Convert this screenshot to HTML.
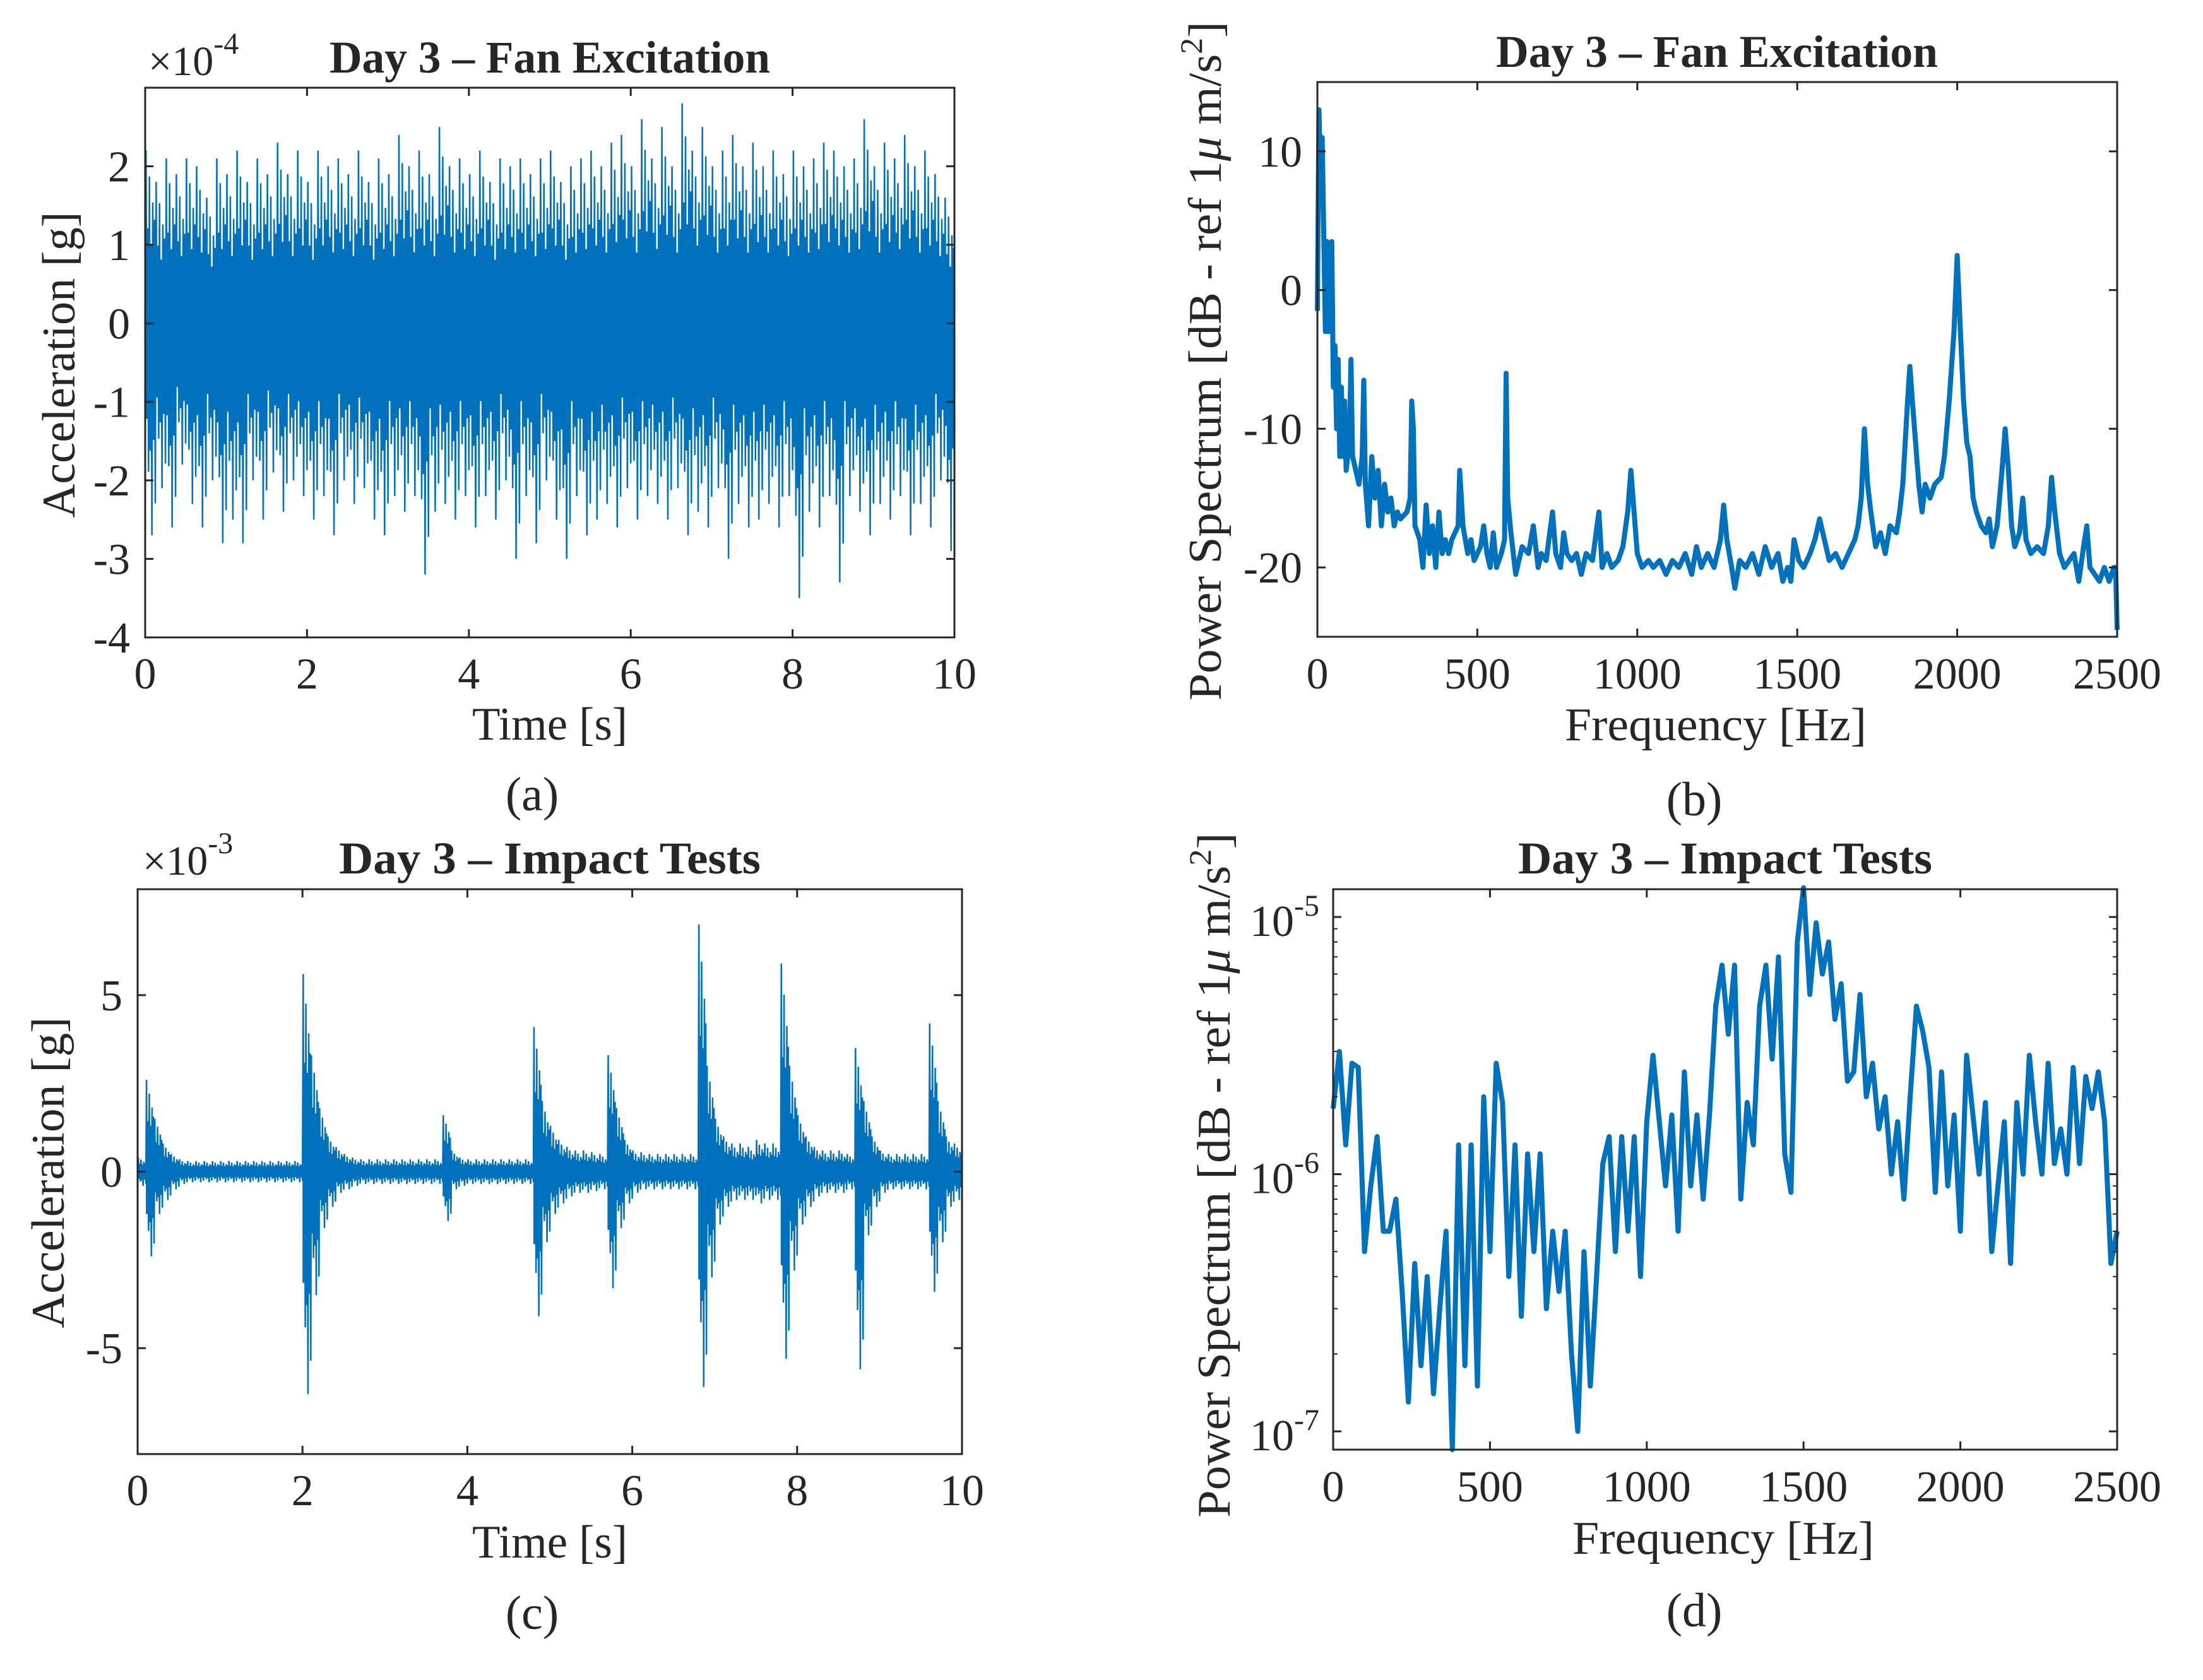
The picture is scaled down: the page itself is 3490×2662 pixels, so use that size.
<!DOCTYPE html>
<html><head><meta charset="utf-8"><style>
html,body{margin:0;padding:0;background:#fff}
svg{display:block}
text{font-family:"Liberation Serif",serif;fill:#262626}
</style></head><body>
<svg id="fig" xmlns="http://www.w3.org/2000/svg" width="3490" height="2662" viewBox="0 0 3490 2662">
<rect width="3490" height="2662" fill="#fff"/>
<g id="pa"></g>
<g id="pb"></g>
<g id="pc"></g>
<g id="pd"></g>
</svg>
<script>
// ---- Panel (a) data: per-bin extremes (x1e-4 g), 80 bins over 0-10 s
const aMax=[2.2,1.8,2.1,1.9,2.1,2.0,1.6,2.1,1.9,2.2,1.8,2.1,1.9,2.3,1.9,2.2,1.8,2.2,2.0,2.1,1.9,2.2,1.8,2.1,1.9,2.4,2.0,2.2,1.9,2.5,2.0,2.1,1.9,2.2,1.8,2.1,2.0,2.1,1.9,2.1,2.2,1.8,2.0,2.1,2.2,2.0,2.3,2.4,2.0,2.6,2.1,2.5,2.0,2.8,2.2,2.5,2.0,2.2,2.4,2.0,2.3,2.0,2.2,1.9,2.2,2.0,2.1,2.3,2.2,2.0,2.1,2.6,2.0,2.3,2.1,2.4,2.0,2.2,1.9,1.6];
const aMin=[-2.7,-2.1,-2.6,-1.8,-2.3,-2.6,-2.0,-2.8,-2.5,-2.8,-2.0,-2.5,-1.9,-2.4,-2.0,-2.2,-2.5,-2.2,-2.7,-2.0,-2.3,-2.1,-2.5,-2.7,-2.2,-2.4,-2.2,-3.2,-2.4,-2.3,-2.5,-2.2,-2.6,-2.2,-2.5,-2.0,-3.0,-2.2,-2.8,-2.0,-2.5,-3.0,-2.2,-2.7,-2.5,-2.3,-2.6,-2.1,-2.5,-2.2,-2.3,-2.5,-2.1,-2.7,-2.4,-2.6,-2.1,-3.0,-2.3,-2.6,-2.5,-2.3,-2.6,-2.2,-3.5,-2.4,-2.6,-2.2,-3.3,-2.2,-2.4,-2.7,-2.3,-2.5,-2.2,-2.7,-2.3,-2.6,-2.0,-2.9];
const aXTicks=[0,2,4,6,8,10];
const aYTicks=[-4,-3,-2,-1,0,1,2];
// ---- Panel (b) data
const bFreq=[0,5,10,15,20,25,30,35,40,45,50,55,60,65,70,75,80,85,90,95,100,105,110,120,130,140,145,150,160,170,180,190,200,210,220,230,240,250,260,280,290,295,300,305,320,330,340,350,360,370,380,390,400,410,420,440,445,455,470,480,490,500,510,520,530,540,550,560,575,585,590,595,605,620,640,660,675,690,700,715,735,745,760,770,780,795,810,825,840,860,880,890,905,920,940,955,970,980,990,1000,1015,1035,1050,1070,1090,1110,1130,1150,1170,1185,1200,1220,1240,1260,1270,1280,1295,1305,1320,1340,1360,1380,1400,1420,1440,1455,1470,1480,1490,1505,1520,1540,1555,1570,1580,1600,1620,1640,1660,1680,1690,1700,1710,1720,1730,1745,1760,1775,1790,1810,1820,1830,1845,1852,1860,1870,1880,1890,1900,1915,1930,1950,1960,1975,1990,2000,2010,2020,2030,2040,2050,2060,2075,2090,2100,2110,2125,2140,2150,2160,2170,2180,2195,2205,2215,2230,2250,2270,2285,2295,2305,2320,2335,2350,2365,2380,2395,2405,2415,2430,2445,2460,2475,2490,2495,2500];
const bDb=[-1.5,13,8,11,4,-3,3.5,-3,-2,3.5,-7,-4,-10,-5,-12,-7,-12,-8,-13,-12,-11,-5,-12,-13,-14,-12,-6.5,-14,-17,-12,-15,-13,-17,-14,-16,-15,-17,-16,-16.5,-16,-15,-8,-10,-17,-18,-20,-15.5,-19,-17,-20,-16,-19,-18,-19,-18,-17,-13,-17,-19,-18,-19.5,-19,-18.5,-17,-19,-20,-17.5,-20,-19,-18,-6,-15,-17.5,-20.5,-18.5,-19,-17,-20,-19,-19.5,-16,-19,-20,-17.5,-19,-19.5,-19,-20.5,-19,-19.5,-16,-20,-19,-20,-19.5,-18.5,-16,-13,-16,-19,-20,-19.5,-20,-19.5,-20.5,-19.5,-20,-19,-20.5,-18.5,-20,-19,-20,-18,-15.5,-18,-20,-21.5,-19.5,-20,-19,-20.5,-18.5,-20,-19,-21,-20,-21,-18,-19.5,-20,-19,-18,-16.5,-17.5,-19.5,-19,-20,-19,-18,-17,-15,-10,-14,-16,-18.5,-17.5,-19,-17,-17.5,-16,-14,-8,-5.5,-8,-11,-14,-16,-14,-15,-14,-13.5,-12,-8,-3,2.5,-3,-8,-11,-12,-15,-16,-17,-17.5,-16.5,-18.5,-17,-13,-10,-13,-17,-18.5,-17.5,-15,-18,-19,-18.5,-19,-17,-13.5,-16,-19,-20,-19.5,-19,-21,-18.5,-17,-20,-20.5,-21,-20,-21,-20,-20,-24.5];
const bXTicks=[0,500,1000,1500,2000,2500];
const bYTicks=[-20,-10,0,10];
// ---- Panel (c) data: per-bin envelope (x1e-3 g), 100 bins of 0.1 s
const cMax=[0.4,2.6,1.5,0.8,0.5,0.35,0.3,0.3,0.3,0.3,0.3,0.3,0.3,0.3,0.3,0.3,0.3,0.3,0.3,0.3,5.6,3.3,1.8,1.0,0.7,0.5,0.4,0.35,0.35,0.35,0.35,0.35,0.35,0.35,0.35,0.35,0.35,1.6,0.6,0.4,0.35,0.35,0.35,0.35,0.35,0.35,0.35,0.35,4.1,2.0,1.3,0.9,0.7,0.6,0.6,0.55,0.5,3.3,1.8,0.9,0.6,0.55,0.5,0.5,0.5,0.5,0.5,0.5,7.0,3.0,1.5,1.0,0.8,0.8,0.7,0.9,0.8,0.8,5.9,3.0,1.6,1.0,0.7,0.6,0.6,0.6,0.5,3.5,2.0,1.0,0.6,0.5,0.5,0.5,0.5,0.5,4.2,2.0,1.0,0.8];
const cMin=[-0.4,-2.4,-1.2,-0.8,-0.5,-0.35,-0.3,-0.3,-0.3,-0.3,-0.3,-0.3,-0.3,-0.3,-0.3,-0.3,-0.3,-0.3,-0.3,-0.3,-6.3,-3.5,-1.6,-1.0,-0.6,-0.5,-0.4,-0.35,-0.35,-0.35,-0.35,-0.35,-0.35,-0.35,-0.35,-0.35,-0.35,-1.4,-0.5,-0.4,-0.35,-0.35,-0.35,-0.35,-0.35,-0.35,-0.35,-0.35,-4.1,-2.0,-1.2,-0.9,-0.7,-0.6,-0.6,-0.55,-0.5,-3.3,-1.6,-0.9,-0.6,-0.5,-0.5,-0.5,-0.5,-0.5,-0.5,-0.5,-6.1,-3.0,-1.5,-1.0,-0.8,-0.8,-0.8,-0.9,-0.8,-0.8,-5.3,-2.8,-1.5,-1.0,-0.7,-0.6,-0.6,-0.6,-0.5,-5.6,-1.8,-1.0,-0.6,-0.5,-0.5,-0.5,-0.5,-0.5,-3.4,-2.0,-1.0,-0.8];
const cXTicks=[0,2,4,6,8,10];
const cYTicks=[-5,0,5];
// ---- Panel (d) data: 20 Hz steps, values x1e-6
const dStep=20;
const dVal=[1.8,3.0,1.3,2.7,2.6,0.5,0.9,1.4,0.6,0.6,0.8,0.35,0.13,0.45,0.18,0.4,0.14,0.3,0.6,0.08,1.3,0.18,1.3,0.15,2.0,0.5,2.7,1.9,0.4,1.3,0.28,1.2,0.5,1.2,0.3,0.6,0.35,0.6,0.2,0.1,0.5,0.15,0.4,1.1,1.4,0.5,1.4,0.6,1.4,0.4,1.6,2.9,1.6,0.9,1.7,0.6,2.5,0.9,1.7,0.8,1.7,4.5,6.5,3.5,6.5,0.8,1.9,1.3,4.5,6.5,2.8,7.0,1.2,0.85,8.0,13.0,5.0,9.5,6.0,8.0,4.0,5.5,2.3,2.5,5.0,2.0,2.7,1.5,2.0,1.0,1.6,0.8,2.0,4.5,3.6,2.6,0.85,2.5,0.9,1.7,0.6,2.9,1.7,1.0,1.9,0.5,0.9,1.6,0.45,1.9,1.0,2.9,1.6,1.0,2.7,1.1,1.5,1.0,2.6,1.1,2.4,1.8,2.5,1.6,0.45,0.6];
const dXTicks=[0,500,1000,1500,2000,2500];
const dYTickExp=[-7,-6,-5];

const NS="http://www.w3.org/2000/svg";
const BLUE="#0072BD", AX="#262626";
function mk(parent,tag,attrs){const e=document.createElementNS(NS,tag);for(const k in attrs)e.setAttribute(k,attrs[k]);parent.appendChild(e);return e;}
function lin(d0,d1,r0,r1){return v=>r0+(v-d0)*(r1-r0)/(d1-d0);}

function frame(g,B,xs,ys,xt,yt,ytlab,xtY){
  const box=mk(g,'rect',{x:B.L,y:B.T,width:B.R-B.L,height:B.B-B.T,fill:'none',stroke:AX,'stroke-width':3});
  
  
  const tl=13;
  xt.forEach(v=>{const x=xs(v);
    mk(g,'line',{x1:x,y1:B.B,x2:x,y2:B.B-tl,stroke:AX,'stroke-width':3});
    mk(g,'line',{x1:x,y1:B.T,x2:x,y2:B.T+tl,stroke:AX,'stroke-width':3});
    const t=mk(g,'text',{x:x,y:xtY,'font-size':70,'text-anchor':'middle'});t.textContent=String(v);
    
    
  });
  yt.forEach((v,i)=>{const y=ys(v);
    mk(g,'line',{x1:B.L,y1:y,x2:B.L+tl,y2:y,stroke:AX,'stroke-width':3});
    mk(g,'line',{x1:B.R,y1:y,x2:B.R-tl,y2:y,stroke:AX,'stroke-width':3});
    if(ytlab){const t=mk(g,'text',{x:B.L-24,y:y+24,'font-size':70,'text-anchor':'end'});t.textContent=ytlab(v);
      
      }
  });
}
function txt(g,s,attrs,name){const t=mk(g,'text',attrs);t.textContent=s;return t;}
function ylab(g,x,cy,len){
  const t=mk(g,'text',{x:0,y:0,'font-size':74,'text-anchor':'middle',transform:`translate(${x},${cy}) rotate(-90)`,textLength:len,lengthAdjust:'spacingAndGlyphs'});
  
  
  return t;
}
function specYlab(g,x,cy,len){
  const t=ylab(g,x,cy,len);
  const a=mk(t,'tspan',{});a.textContent='Power Spectrum [dB - ref 1';
  const b=mk(t,'tspan',{'font-style':'italic'});b.textContent='μ';
  const c=mk(t,'tspan',{});c.textContent=' m/s';
  const d=mk(t,'tspan',{dy:-30,'font-size':50});d.textContent='2';
  const e=mk(t,'tspan',{dy:30});e.textContent=']';
}
const pat=[1,0.55,0.85,0.45,0.7,0.6];
function burst(g,B,xs,ys,mx,mn,n,t0,t1,lw,cf){
  let pts=[];
  const w=(t1-t0)/n;
  let up=[],dn=[];
  for(let i=0;i<n;i++){
    const xa=xs(t0+i*w),xb=xs(t0+(i+1)*w);
    up.push([xa,ys(mx[i]*cf)],[xb,ys(mx[i]*cf)]);
    dn.push([xa,ys(mn[i]*cf)],[xb,ys(mn[i]*cf)]);
    for(let k=0;k<6;k++){
      const x=xa+(xb-xa)*(k+0.5)/6;
      pts.push([x,ys(mx[i]*pat[k])]);
      pts.push([x+(xb-xa)/12,ys(mn[i]*pat[(k+3)%6])]);
    }
  }
  const poly=up.concat(dn.reverse()).map(p=>p[0].toFixed(1)+','+p[1].toFixed(1)).join(' ');
  const c=mk(g,'polygon',{points:poly,fill:BLUE});
  
  
  const l=mk(g,'polyline',{points:pts.map(p=>p[0].toFixed(1)+','+p[1].toFixed(1)).join(' '),fill:'none',stroke:BLUE,'stroke-width':lw});
  
  
}

// ===== Panel a =====
(function(){
  const g=document.getElementById('pa');const B={L:230,R:1512,T:139,B:1010};
  const xs=lin(0,10,B.L,B.R),ys=lin(-4,3,B.B,B.T);
  burst(g,B,xs,ys,aMax,aMin,aMax.length,0,10,2.5,0.45);
  frame(g,B,xs,ys,aXTicks,aYTicks,v=>String(v),1091);
  txt(g,'Day 3 – Fan Excitation',{x:871,y:115,'font-size':72,'font-weight':'bold','text-anchor':'middle',textLength:698,lengthAdjust:'spacingAndGlyphs'},'chart-title');
  const m=txt(g,'',{x:235,y:119,'font-size':66},'y-scale-exponent');
  mk(m,'tspan',{}).textContent='×10';const s=mk(m,'tspan',{dy:-34,'font-size':48});s.textContent='-4';
  txt(g,'Time [s]',{x:871,y:1172,'font-size':74,'text-anchor':'middle',textLength:246,lengthAdjust:'spacingAndGlyphs'},'x-axis-title');
  ylab(g,118,578,485).textContent='Acceleration [g]';
  txt(g,'(a)',{x:843,y:1284,'font-size':76,'text-anchor':'middle'},'panel-label');
})();
// ===== Panel b =====
(function(){
  const g=document.getElementById('pb');const B={L:2087,R:3354,T:130,B:1009};
  const xs=lin(0,2500,B.L,B.R),ys=lin(-25,15,B.B,B.T);
  const pts=bFreq.map((f,i)=>xs(f).toFixed(1)+','+ys(bDb[i]).toFixed(1)).join(' ');
  const l=mk(g,'polyline',{points:pts,fill:'none',stroke:BLUE,'stroke-width':8,'stroke-linejoin':'round'});
  
  
  frame(g,B,xs,ys,bXTicks,bYTicks,v=>String(v),1091);
  txt(g,'Day 3 – Fan Excitation',{x:2720,y:106,'font-size':72,'font-weight':'bold','text-anchor':'middle',textLength:700,lengthAdjust:'spacingAndGlyphs'},'chart-title');
  txt(g,'Frequency [Hz]',{x:2718,y:1173,'font-size':74,'text-anchor':'middle',textLength:478,lengthAdjust:'spacingAndGlyphs'},'x-axis-title');
  specYlab(g,1934,572,1076);
  txt(g,'(b)',{x:2684,y:1292,'font-size':76,'text-anchor':'middle'},'panel-label');
})();
// ===== Panel c =====
(function(){
  const g=document.getElementById('pc');const B={L:218,R:1524,T:1409,B:2304};
  const xs=lin(0,10,B.L,B.R),ys=lin(-8,8,B.B,B.T);
  burst(g,B,xs,ys,cMax,cMin,cMax.length,0,10,2.5,0.5);
  frame(g,B,xs,ys,cXTicks,cYTicks,v=>String(v),2385);
  txt(g,'Day 3 – Impact Tests',{x:871,y:1384,'font-size':72,'font-weight':'bold','text-anchor':'middle',textLength:668,lengthAdjust:'spacingAndGlyphs'},'chart-title');
  const m=txt(g,'',{x:226,y:1386,'font-size':66},'y-scale-exponent');
  mk(m,'tspan',{}).textContent='×10';const s=mk(m,'tspan',{dy:-34,'font-size':48});s.textContent='-3';
  txt(g,'Time [s]',{x:871,y:2468,'font-size':74,'text-anchor':'middle',textLength:246,lengthAdjust:'spacingAndGlyphs'},'x-axis-title');
  ylab(g,101,1858,493).textContent='Acceleration [g]';
  txt(g,'(c)',{x:843,y:2581,'font-size':76,'text-anchor':'middle'},'panel-label');
})();
// ===== Panel d =====
(function(){
  const g=document.getElementById('pd');const B={L:2112,R:3354,T:1409,B:2297};
  const xs=lin(0,2500,B.L,B.R),ly=lin(-7.071,-4.892,B.B,B.T),ys=v=>ly(Math.log10(v));
  const pts=dVal.map((v,i)=>xs(i*dStep).toFixed(1)+','+Math.min(B.B,ys(v*1e-6)).toFixed(1)).join(' ');
  const l=mk(g,'polyline',{points:pts,fill:'none',stroke:BLUE,'stroke-width':8,'stroke-linejoin':'round'});
  
  
  frame(g,B,xs,v=>ly(v),dXTicks,dYTickExp,null,2379);
  [-7,-6,-5].forEach(e=>{for(let k=2;k<=9;k++){const lv=e+Math.log10(k);if(lv>-4.892)continue;const y=ly(lv);
    mk(g,'line',{x1:B.L,y1:y,x2:B.L+7,y2:y,stroke:AX,'stroke-width':2});
    mk(g,'line',{x1:B.R,y1:y,x2:B.R-7,y2:y,stroke:AX,'stroke-width':2});}});
  dYTickExp.forEach(e=>{const y=ly(e);
    const t=txt(g,'',{x:2090,y:y+30,'font-size':70,'text-anchor':'end'},'y-tick-label');
    mk(t,'tspan',{}).textContent='10';const s=mk(t,'tspan',{dy:-32,'font-size':48});s.textContent=String(e);});
  txt(g,'Day 3 – Impact Tests',{x:2733,y:1384,'font-size':72,'font-weight':'bold','text-anchor':'middle',textLength:656,lengthAdjust:'spacingAndGlyphs'},'chart-title');
  txt(g,'Frequency [Hz]',{x:2730,y:2462,'font-size':74,'text-anchor':'middle',textLength:478,lengthAdjust:'spacingAndGlyphs'},'x-axis-title');
  specYlab(g,1948,1862,1085);
  txt(g,'(d)',{x:2684,y:2577,'font-size':76,'text-anchor':'middle'},'panel-label');
})();
</script>
</body></html>
